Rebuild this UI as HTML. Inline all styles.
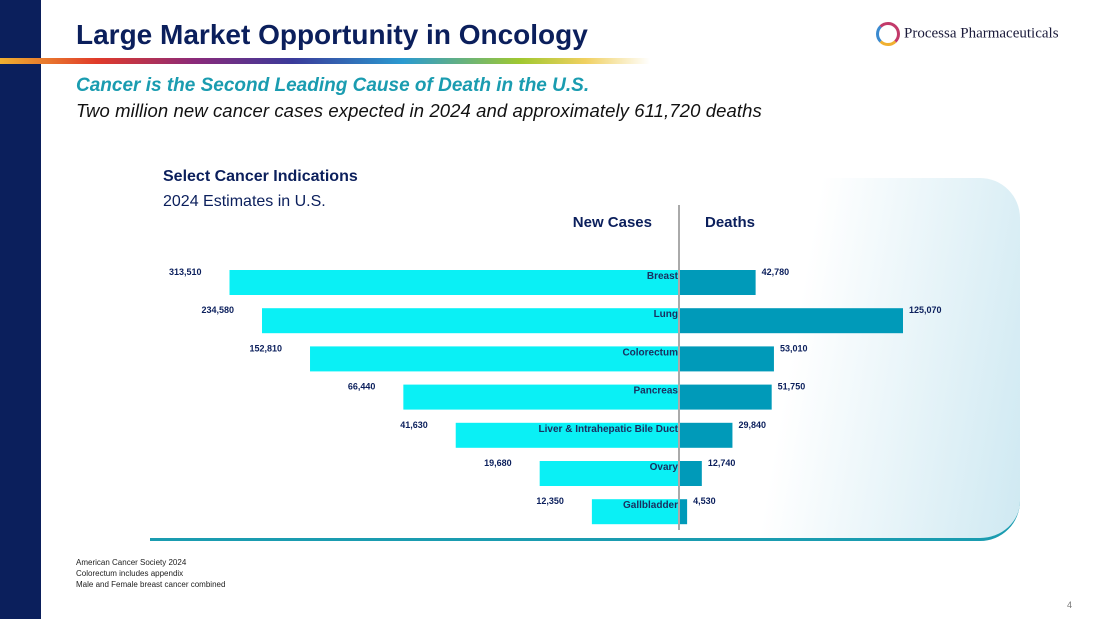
<!DOCTYPE html>
<html><head><meta charset="utf-8"><style>
body{margin:0;width:1100px;height:619px;overflow:hidden;background:#fff;font-family:"Liberation Sans",sans-serif;position:relative}
.side{position:absolute;left:0;top:0;width:41px;height:619px;background:#0b1f5c}
.title{position:absolute;left:76px;top:19px;font-size:28px;font-weight:bold;color:#0b1f5c;letter-spacing:0px}
.rainbow{position:absolute;left:0;top:58px;width:650px;height:6px;background:linear-gradient(90deg,#f0b030,#e03a2a 15%,#8a2a7a 30%,#3a3a9a 45%,#2a9ad0 62%,#a0c830 80%,#f0d060 90%,rgba(255,255,255,0))}
.sub1{position:absolute;left:76px;top:75px;font-size:19px;font-weight:bold;font-style:italic;color:#1a9cb0}
.sub2{position:absolute;left:76px;top:100px;font-size:18.5px;font-style:italic;color:#111;letter-spacing:0.1px}
.logo{position:absolute;left:876px;top:22px;font-family:"Liberation Serif",serif;font-size:15px;color:#1a1a3a}
.panel{position:absolute;left:150px;top:178px;width:870px;height:360px;border-radius:0 40px 40px 0;background:linear-gradient(100deg,#fff 72%,#cfe9f2 100%);border-bottom:3px solid #1a9cb0}
.notes{position:absolute;left:76px;top:557px;font-size:8px;color:#222;line-height:11px}
.pg{position:absolute;left:1067px;top:600px;font-size:9px;color:#777}
</style></head><body>
<div class="side"></div>
<div class="title">Large Market Opportunity in Oncology</div>
<div class="rainbow"></div>
<div class="logo"><span style="display:inline-block;width:18px;height:18px;border:3px solid #c23a6a;border-radius:50%;vertical-align:middle;margin-right:4px;border-left-color:#3a8ad0;border-bottom-color:#f0b030"></span>Processa Pharmaceuticals</div>
<div class="sub1">Cancer is the Second Leading Cause of Death in the U.S.</div>
<div class="sub2">Two million new cancer cases expected in 2024 and approximately 611,720 deaths</div>
<div class="panel"></div>
<svg id="chart" width="1100" height="619" style="position:absolute;left:0;top:0">
<text x="163" y="181" font-size="16" font-weight="bold" fill="#0b1f5c">Select Cancer Indications</text>
<text x="163" y="206" font-size="16" fill="#0b1f5c">2024 Estimates in U.S.</text>
<text x="652" y="227" font-size="15" font-weight="bold" fill="#0b1f5c" text-anchor="end">New Cases</text>
<text x="705" y="227" font-size="15" font-weight="bold" fill="#0b1f5c">Deaths</text>
</svg>
<div class="notes">American Cancer Society 2024<br>Colorectum includes appendix<br>Male and Female breast cancer combined</div>
<div class="pg">4</div>
<script>
const categories=["Breast","Lung","Colorectum","Pancreas","Liver & Intrahepatic Bile Duct","Ovary","Gallbladder"];
const newCases=[313510,234580,152810,66440,41630,19680,12350];
const deaths=[42780,125070,53010,51750,29840,12740,4530];
const ns="http://www.w3.org/2000/svg";
const svg=document.getElementById('chart');
const cx=679, top0=270, step=38.2, bh=25;
const xLeft=v=>Math.max(2,258*(Math.log10(v)-3.754));
const xRight=v=>v*224/125070;
const fmt=v=>v.toLocaleString('en-US');
function mk(tag,attrs,txt){const e=document.createElementNS(ns,tag);for(const k in attrs)e.setAttribute(k,attrs[k]);if(txt!==undefined)e.textContent=txt;svg.appendChild(e);return e;}
categories.forEach((c,i)=>{
 const y=top0+i*step;
 const wl=xLeft(newCases[i]), wr=xRight(deaths[i]);
 const b1=mk('rect',{x:cx-wl,y:y,width:wl,height:bh,fill:'#0af0f5'});
 
 
 const b2=mk('rect',{x:cx,y:y,width:wr,height:bh,fill:'#009ab9'});
 
 
 const l=mk('text',{x:cx-1,y:y+9,'font-size':10,'font-weight':'bold',fill:'#1a3060','text-anchor':'end'},c);
 
 
 const t1=mk('text',{x:cx-wl-28,y:y+5,'font-size':9,'font-weight':'bold',fill:'#0b1f5c','text-anchor':'end'},fmt(newCases[i]));
 
 
 const t2=mk('text',{x:cx+wr+6,y:y+5,'font-size':9,'font-weight':'bold',fill:'#0b1f5c'},fmt(deaths[i]));
 
 
});
const ln=mk('line',{x1:cx,y1:205,x2:cx,y2:530,stroke:'#aaa','stroke-width':2});


</script>
</body></html>
